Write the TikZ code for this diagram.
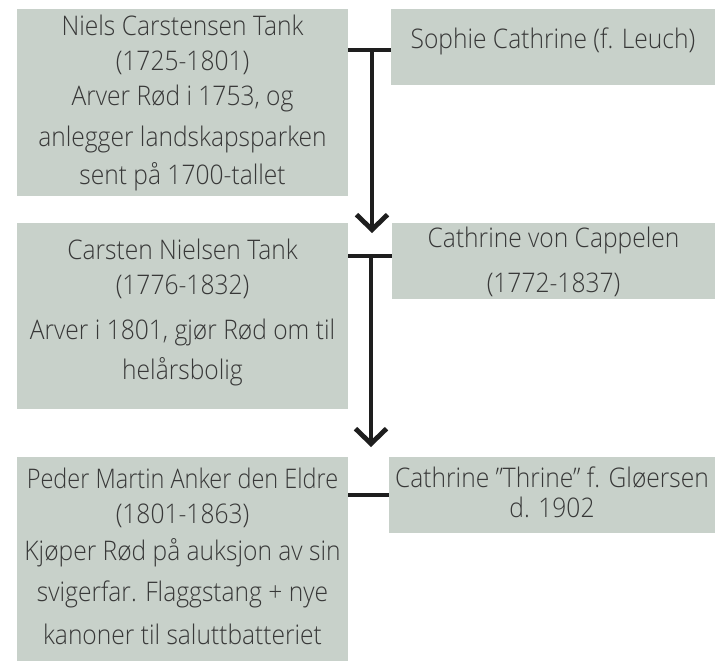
\documentclass[tikz,border=0pt]{standalone}
\usepackage{fontspec}
\IfFontExistsTF{Open Sans Light}{\setmainfont{Open Sans Light}[FakeStretch=0.91]}{\setmainfont{Open Sans}[FakeStretch=0.91]}
\usetikzlibrary{arrows.meta}
\definecolor{boxfill}{HTML}{C8D1CA}
\definecolor{txtcol}{HTML}{383838}
\definecolor{linecol}{HTML}{1E1E1E}
\newcommand{\narrowline}[1]{{\addfontfeatures{FakeStretch=0.87}#1}}
\tikzset{
  famrect/.style={fill=boxfill, draw=none, inner sep=0pt, outer sep=0pt, anchor=north west},
  famtext/.style={text=txtcol, inner sep=0pt, anchor=base, font=\fontsize{27}{35}\selectfont},
  marriage/.style={draw=linecol, line width=3.5pt},
  descent/.style={draw=linecol, line width=3.5pt, -{Straight Barb[length=15pt,width=31pt,line width=4.8pt]}},
}
\begin{document}
\begin{tikzpicture}[x=1pt,y=-1pt]
\fill[white] (0,0) rectangle (715,661);
\path[use as bounding box] (0,0) rectangle (715,661);
% boxes
\node[famrect, minimum width=331pt, minimum height=187pt] (b1) at (17,9) {};
\node[famrect, minimum width=324pt, minimum height=76pt] (b2) at (391,9) {};
\node[famrect, minimum width=331pt, minimum height=186pt] (b3) at (17,223) {};
\node[famrect, minimum width=323pt, minimum height=76pt] (b4) at (392,223) {};
\node[famrect, minimum width=331pt, minimum height=204pt] (b5) at (17,457) {};
\node[famrect, minimum width=326pt, minimum height=76pt] (b6) at (389,457) {};
% texts
\node[famtext] (t1) at (182.5,36) {\begin{tabular}[t]{@{}c@{}}Niels Carstensen Tank\\(1725-1801)\\Arver Rød i 1753, og\\[6pt]anlegger landskapsparken\\[3pt]sent på 1700-tallet\end{tabular}};
\node[famtext] (t2) at (553,49) {Sophie Cathrine (f. Leuch)};
\node[famtext] (t3) at (182.5,259) {\begin{tabular}[t]{@{}c@{}}Carsten Nielsen Tank\\(1776-1832)\\[10pt]Arver i 1801, gjør Rød om til\\[5pt]helårsbolig\end{tabular}};
\node[famtext] (t4) at (553.5,247) {\begin{tabular}[t]{@{}c@{}}Cathrine von Cappelen\\[10pt](1772-1837)\end{tabular}};
\node[famtext] (t5) at (182.5,488) {\begin{tabular}[t]{@{}c@{}}\narrowline{Peder Martin Anker den Eldre}\\(1801-1863)\\[2pt]Kjøper Rød på auksjon av sin\\[6pt]svigerfar. Flaggstang + nye\\[8pt]kanoner til saluttbatteriet\end{tabular}};
\node[famtext] (t6) at (552,487) {\begin{tabular}[t]{@{}c@{}}Cathrine ”Thrine” f. Gløersen\\[-5pt]d. 1902\end{tabular}};
% connectors
\coordinate (j1) at (372,50);
\coordinate (a1) at (372,233);
\draw[marriage] (b1.east |- j1) -- (b2.west |- j1);
\draw[descent] (j1) -- (a1);
\coordinate (j2) at (371,256);
\coordinate (a2) at (371,447);
\draw[marriage] (b3.east |- j2) -- (b4.west |- j2);
\draw[descent] (j2) -- (a2);
\coordinate (j3) at (371,495);
\draw[marriage] (b5.east |- j3) -- (b6.west |- j3);
\end{tikzpicture}
\end{document}
